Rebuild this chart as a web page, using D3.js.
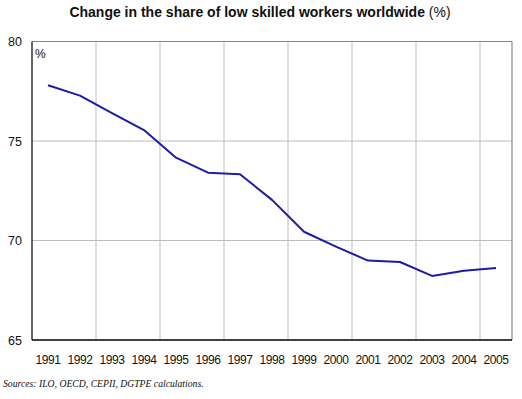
<!DOCTYPE html>
<html>
<head>
<meta charset="utf-8">
<script src="https://cdn.jsdelivr.net/npm/d3@7"></script>
<style>
  body { margin: 0; background: #fff; }
  svg { display: block; }
</style>
</head>
<body>
<div id="chart"></div>
<script>
// data
const years = ["1991","1992","1993","1994","1995","1996","1997","1998","1999","2000","2001","2002","2003","2004","2005"];
const shareLowSkilled = [77.8, 77.28, 76.4, 75.55, 74.16, 73.41, 73.33, 72.04, 70.44, 69.69, 68.99, 68.92, 68.22, 68.48, 68.62];
const yTicks = [65, 70, 75, 80];
const titleMain = "Change in the share of low skilled workers worldwide ";
const titleUnit = "(%)";
const sourceNote = "Sources: ILO, OECD, CEPII, DGTPE calculations.";

const W = 522, H = 399;
const margin = {top: 41.5, right: 10, bottom: 59, left: 32};
const width = W - margin.left - margin.right;
const height = H - margin.top - margin.bottom;

const svg = d3.select("#chart").append("svg")
    .attr("width", W)
    .attr("height", H);

svg.append("text")
    .attr("x", 260)
    .attr("y", 16.5)
    .attr("text-anchor", "middle")
    .style("font-family", "Liberation Sans, Arial, sans-serif")
    .style("font-size", "14px")
    .style("font-weight", "bold")
    .style("fill", "#111")
    .call(t => {
        t.append("tspan").text(titleMain);
        t.append("tspan").style("font-weight", "normal").text(titleUnit);
    });

const g = svg.append("g")
    .attr("transform", `translate(${margin.left},${margin.top})`);

const x = d3.scaleBand()
    .domain(years)
    .range([0, width])
    .padding(0);

const y = d3.scaleLinear()
    .domain([65, 80])
    .range([height, 0]);

// horizontal gridlines
g.selectAll(".hgrid")
    .data(yTicks.filter(d => d > 65 && d < 80))
    .enter().append("line")
    .attr("class", "hgrid")
    .attr("x1", 0).attr("x2", width)
    .attr("y1", d => y(d)).attr("y2", d => y(d))
    .attr("stroke", "#bdbdbd")
    .attr("stroke-width", 1);

// vertical gridlines every 2 years (band edges)
const vEdges = years.filter((d, i) => i > 0 && i % 2 === 0);
g.selectAll(".vgrid")
    .data(vEdges)
    .enter().append("line")
    .attr("class", "vgrid")
    .attr("x1", d => x(d)).attr("x2", d => x(d))
    .attr("y1", 0).attr("y2", height)
    .attr("stroke", "#bdbdbd")
    .attr("stroke-width", 1);

// frame: top/right grey, left/bottom black
g.append("line").attr("x1", 0).attr("x2", width).attr("y1", 0).attr("y2", 0)
    .attr("stroke", "#888").attr("stroke-width", 1.2);
g.append("line").attr("x1", width).attr("x2", width).attr("y1", 0).attr("y2", height)
    .attr("stroke", "#888").attr("stroke-width", 1.2);
g.append("line").attr("x1", 0).attr("x2", 0).attr("y1", 0).attr("y2", height)
    .attr("stroke", "#000").attr("stroke-width", 1.2);
g.append("line").attr("x1", 0).attr("x2", width).attr("y1", height).attr("y2", height)
    .attr("stroke", "#000").attr("stroke-width", 1.5);

// y labels
g.selectAll(".ylab")
    .data(yTicks)
    .enter().append("text")
    .attr("class", "ylab")
    .attr("x", -10)
    .attr("y", d => y(d))
    .attr("dy", "0.38em")
    .attr("text-anchor", "end")
    .style("font-family", "Liberation Sans, Arial, sans-serif")
    .style("font-size", "12.5px")
    .style("fill", "#111")
    .text(d => d);

// x labels
g.selectAll(".xlab")
    .data(years)
    .enter().append("text")
    .attr("class", "xlab")
    .attr("x", d => x(d) + x.bandwidth() / 2)
    .attr("y", height + 24)
    .attr("text-anchor", "middle")
    .style("font-family", "Liberation Sans, Arial, sans-serif")
    .style("font-size", "12px")
    .style("letter-spacing", "-0.4px")
    .style("fill", "#111")
    .text(d => d);

// unit label
g.append("text")
    .attr("x", 3)
    .attr("y", 16)
    .style("font-family", "Liberation Sans, Arial, sans-serif")
    .style("font-size", "12px")
    .style("fill", "#111")
    .text("%");

const line = d3.line()
    .x((d, i) => x(years[i]) + x.bandwidth() / 2)
    .y(d => y(d));

g.append("path")
    .datum(shareLowSkilled)
    .attr("d", line)
    .attr("fill", "none")
    .attr("stroke", "#1c1ca6")
    .attr("stroke-width", 2)
    .attr("stroke-linejoin", "round");

svg.append("text")
    .attr("x", 3)
    .attr("y", 387)
    .style("font-family", "Liberation Serif, Times New Roman, serif")
    .style("font-size", "9.7px")
    .style("font-style", "italic")
    .style("fill", "#111")
    .text(sourceNote);
</script>
</body>
</html>
